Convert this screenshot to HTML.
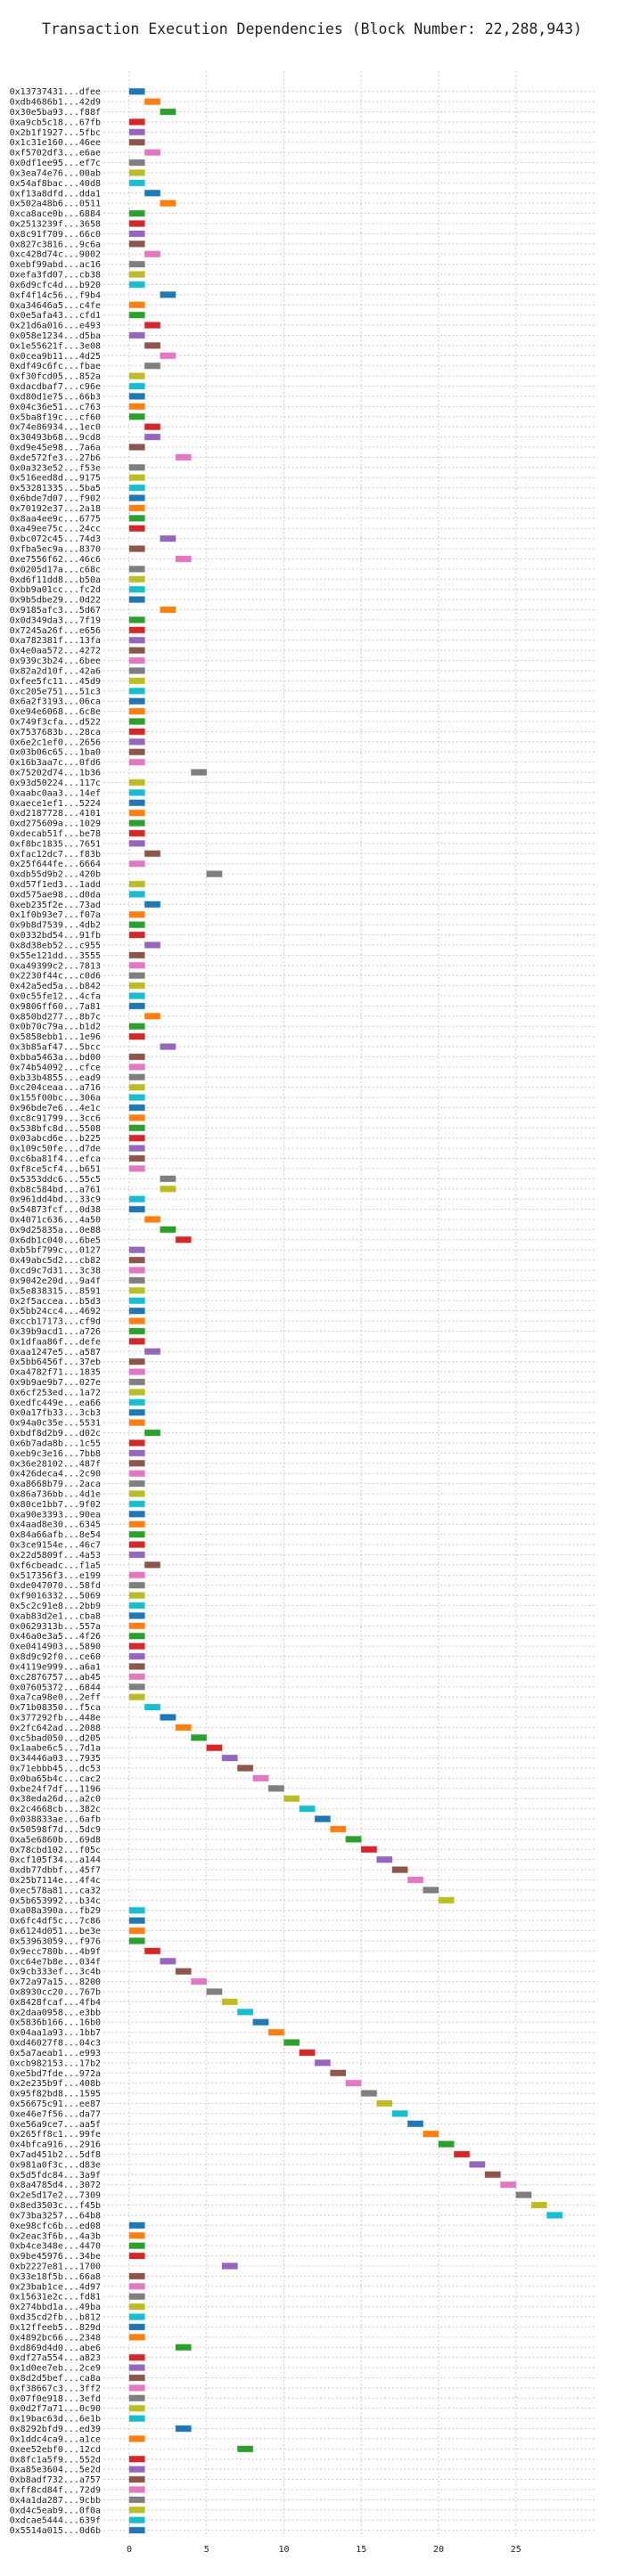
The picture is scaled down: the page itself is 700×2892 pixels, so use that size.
<!DOCTYPE html>
<html><head><meta charset="utf-8">
<style>
html,body{margin:0;padding:0;background:#fff;}
svg{display:block;}
text{font-family:"DejaVu Sans Mono","Liberation Mono",monospace;fill:#222;}
</style></head>
<body>
<svg id="chart" width="700" height="2892" viewBox="0 0 700 2892" xmlns="http://www.w3.org/2000/svg">
<text x="350" y="38" text-anchor="middle" font-size="16.5">Transaction Execution Dependencies (Block Number: 22,288,943)</text>
<g id="grid"></g>
<g id="rows"></g>
<g id="bars"></g>
<g id="xaxis"></g>
</svg>
<script>
const txLabels = [
"0x13737431...dfee","0xdb4686b1...42d9","0x30e5ba93...f88f","0xa9cb5c18...67fb","0x2b1f1927...5fbc","0x1c31e160...46ee","0xf5702df3...e6ae","0x0df1ee95...ef7c","0x3ea74e76...00ab","0x54af8bac...40d8",
"0xf13a8dfd...dda1","0x502a48b6...0511","0xca8ace0b...6884","0x2513239f...3658","0x8c91f709...66c0","0x827c3816...9c6a","0xc428d74c...9002","0xebf99abd...ac16","0xefa3fd07...cb38","0x6d9cfc4d...b920",
"0xf4f14c56...f9b4","0xa34646a5...c4fe","0x0e5afa43...cfd1","0x21d6a016...e493","0x058e1234...d5ba","0x1e55621f...3e08","0x0cea9b11...4d25","0xdf49c6fc...fbae","0xf30fcd05...852a","0xdacdbaf7...c96e",
"0xd80d1e75...66b3","0x04c36e51...c763","0x5ba8f19c...cf60","0x74e86934...1ec0","0x30493b68...9cd8","0xd9e45e98...7a6a","0xde572fe3...27b6","0x0a323e52...f53e","0x516eed8d...9175","0x53281335...5ba5",
"0x6bde7d07...f902","0x70192e37...2a18","0x8aa4ee9c...6775","0xa49ee75c...24cc","0xbc072c45...74d3","0xfba5ec9a...8370","0xe7556f62...46c6","0x0205d17a...c68c","0xd6f11dd8...b50a","0xbb9a01cc...fc2d",
"0x9b5dbe29...0d22","0x9185afc3...5d67","0x0d349da3...7f19","0x7245a26f...e656","0xa782381f...13fa","0x4e0aa572...4272","0x939c3b24...6bee","0x82a2d10f...42a6","0xfee5fc11...45d9","0xc205e751...51c3",
"0x6a2f3193...06ca","0xe94e6068...6c8e","0x749f3cfa...d522","0x7537683b...28ca","0x6e2c1ef0...2656","0x03b06c65...1ba0","0x16b3aa7c...0fd6","0x75202d74...1b36","0x93d50224...117c","0xaabc0aa3...14ef",
"0xaece1ef1...5224","0xd2187728...4101","0xd275609a...1029","0xdecab51f...be78","0xf8bc1835...7651","0xfac12dc7...f83b","0x25f644fe...6664","0xdb55d9b2...420b","0xd57f1ed3...1add","0xd575ae98...d0da",
"0xeb235f2e...73ad","0x1f0b93e7...f07a","0x9b8d7539...4db2","0x0332bd54...91fb","0x8d38eb52...c955","0x55e121dd...3555","0xa49399c2...7813","0x2230f44c...c0d6","0x42a5ed5a...b842","0x0c55fe12...4cfa",
"0x9806ff60...7a81","0x850bd277...8b7c","0x0b70c79a...b1d2","0x5858ebb1...1e96","0x3b85af47...5bcc","0xbba5463a...bd00","0x74b54092...cfce","0xb33b4855...ead9","0xc204ceaa...a716","0x155f00bc...306a",
"0x96bde7e6...4e1c","0xc8c91799...3cc6","0x538bfc8d...5508","0x03abcd6e...b225","0x109c50fe...d7de","0xc6ba81f4...efca","0xf8ce5cf4...b651","0x5353ddc6...55c5","0xb8c584bd...a761","0x961dd4bd...33c9",
"0x54873fcf...0d38","0x4071c636...4a50","0x9d25835a...0e88","0x6db1c040...6be5","0xb5bf799c...0127","0x49abc5d2...cb82","0xcd9c7d31...3c38","0x9042e20d...9a4f","0x5e838315...8591","0x2f5accea...b5d3",
"0x5bb24cc4...4692","0xccb17173...cf9d","0x39b9acd1...a726","0x1dfaa86f...defe","0xaa1247e5...a587","0x5bb6456f...37eb","0xa4782f71...1835","0x9b9ae9b7...027e","0x6cf253ed...1a72","0xedfc449e...ea66",
"0x0a17fb33...3cb3","0x94a0c35e...5531","0xbdf8d2b9...d02c","0x6b7ada8b...1c55","0xeb9c3e16...7bb8","0x36e28102...487f","0x426deca4...2c90","0xa8668b79...2aca","0x86a736bb...4d1e","0x80ce1bb7...9f02",
"0xa90e3393...90ea","0x4aad8e30...6345","0x84a66afb...8e54","0x3ce9154e...46c7","0x22d5809f...4a53","0xf6cbeadc...f1a5","0x517356f3...e199","0xde047070...58fd","0xf9016332...5069","0x5c2c91e8...2bb9",
"0xab83d2e1...cba8","0x0629313b...557a","0x46a0e3a5...4f26","0xe0414903...5890","0x8d9c92f0...ce60","0x4119e999...a6a1","0xc2876757...ab45","0x07605372...6844","0xa7ca98e0...2eff","0x71b08350...f5ca",
"0x377292fb...448e","0x2fc642ad...2088","0xc5bad050...d205","0x1aabe6c5...7d1a","0x34446a03...7935","0x71ebbb45...dc53","0x0ba65b4c...cac2","0xbe24f7df...1196","0x38eda26d...a2c0","0x2c4668cb...382c",
"0x038833ae...6afb","0x50598f7d...5dc9","0xa5e6860b...69d8","0x78cbd102...f05c","0xcf105f34...a144","0xdb77dbbf...45f7","0x25b7114e...4f4c","0xec578a81...ca32","0x5b653992...b34c","0xa08a390a...fb29",
"0x6fc4df5c...7c86","0x6124d051...be3e","0x53963059...f976","0x9ecc780b...4b9f","0xc64e7b8e...034f","0x9cb333ef...3c4b","0x72a97a15...8200","0x8930cc20...767b","0x8428fcaf...4fb4","0x2daa0958...e3bb",
"0x5836b166...16b0","0x04aa1a93...1bb7","0xd46027f8...04c3","0x5a7aeab1...e993","0xcb982153...17b2","0xe5bd7fde...972a","0x2e235b9f...408b","0x95f82bd8...1595","0x56675c91...ee87","0xe46e7f56...da77",
"0xe56a9ce7...aa5f","0x265ff8c1...99fe","0x4bfca916...2916","0x7ad451b2...5df8","0x981a0f3c...d83e","0x5d5fdc84...3a9f","0x8a4785d4...3072","0x2e5d17e2...7309","0x8ed3503c...f45b","0x73ba3257...64b8",
"0xe98cfc6b...ed08","0x2eac3f6b...4a3b","0xb4ce348e...4470","0x9be45976...34be","0xb2227e81...1700","0x33e18f5b...66a8","0x23bab1ce...4d97","0x15631e2c...fd81","0x274bbd1a...49ba","0xd35cd2fb...b812",
"0x12ffeeb5...829d","0x4892bc66...2348","0xd869d4d0...abe6","0xdf27a554...a823","0x1d0ee7eb...2ce9","0x8d2d5bef...ca8a","0xf38667c3...3ff2","0x07f0e918...3efd","0x0d2f7a71...0c90","0x19bac63d...6e1b",
"0x8292bfd9...ed39","0x1ddc4ca9...a1ce","0xee52ebf0...12cd","0x8fc1a5f9...552d","0xa85e3604...5e2d","0xb8adf732...a757","0xff8cd84f...72d9","0x4a1da287...9cbb","0xd4c5eab9...0f0a","0xdcae5444...639f",
"0x5514a015...0d6b"
];
const startTimes = [
0,1,2,0,0,0,1,0,0,0, 1,2,0,0,0,0,1,0,0,0, 2,0,0,1,0,1,2,1,0,0, 0,0,0,1,1,0,3,0,0,0,
0,0,0,0,2,0,3,0,0,0, 0,2,0,0,0,0,0,0,0,0, 0,0,0,0,0,0,0,4,0,0, 0,0,0,0,0,1,0,5,0,0,
1,0,0,0,1,0,0,0,0,0, 0,1,0,0,2,0,0,0,0,0, 0,0,0,0,0,0,0,2,2,0, 0,1,2,3,0,0,0,0,0,0,
0,0,0,0,1,0,0,0,0,0, 0,0,1,0,0,0,0,0,0,0, 0,0,0,0,0,1,0,0,0,0, 0,0,0,0,0,0,0,0,0,1,
2,3,4,5,6,7,8,9,10,11, 12,13,14,15,16,17,18,19,20,0, 0,0,0,1,2,3,4,5,6,7,
8,9,10,11,12,13,14,15,16,17, 18,19,20,21,22,23,24,25,26,27, 0,0,0,0,6,0,0,0,0,0,
0,0,3,0,0,0,0,0,0,0, 3,0,7,0,0,0,0,0,0,0, 0
];
const durations = new Array(241).fill(1);
const xTicks = [0,5,10,15,20,25];
const palette = ["#1f77b4","#ff7f0e","#2ca02c","#d62728","#9467bd","#8c564b","#e377c2","#7f7f7f","#bcbd22","#17becf"];

const NS = "http://www.w3.org/2000/svg";
const plotL = 116, plotR = 667, x0 = 145, unit = 17.35;
const y0 = 102.7, rowH = 11.408, gridTop = 80, gridBot = 2848;
function xScale(v){ return x0 + v*unit; }
function yScale(i){ return y0 + i*rowH; }
function mk(tag, attrs, parent){
  const e = document.createElementNS(NS, tag);
  for (const k in attrs) e.setAttribute(k, attrs[k]);
  parent.appendChild(e);
  return e;
}
const grid = document.getElementById('grid');
const rows = document.getElementById('rows');
const bars = document.getElementById('bars');
const xaxis = document.getElementById('xaxis');

xTicks.forEach(t => {
  const gx = xScale(t);
  const l = mk('line', {x1:gx, x2:gx, y1:gridTop, y2:gridBot, stroke:'#cfcfcf', 'stroke-width':1.1, 'stroke-dasharray':'2,2.5'}, grid);
  
  
  const tx = mk('text', {x:gx, y:2865, 'text-anchor':'middle', 'font-size':10}, xaxis);
  tx.textContent = String(t);
  
  
});

txLabels.forEach((lab, i) => {
  const y = yScale(i);
  const gl = mk('line', {x1:plotL, x2:plotR, y1:y, y2:y, stroke:'#cfcfcf', 'stroke-width':1.1, 'stroke-dasharray':'2,2.5'}, rows);
  
  
  const t = mk('text', {x:113, y:y+3.5, 'text-anchor':'end', 'font-size':10}, rows);
  t.textContent = lab;
  
  
  const c = palette[i % 10];
  const b = mk('rect', {x:xScale(startTimes[i]), y:y-3.4, width:durations[i]*unit, height:6.8, fill:c, stroke:c, 'stroke-opacity':0.35, 'stroke-width':1}, bars);
  
  
});
</script>
</body></html>
